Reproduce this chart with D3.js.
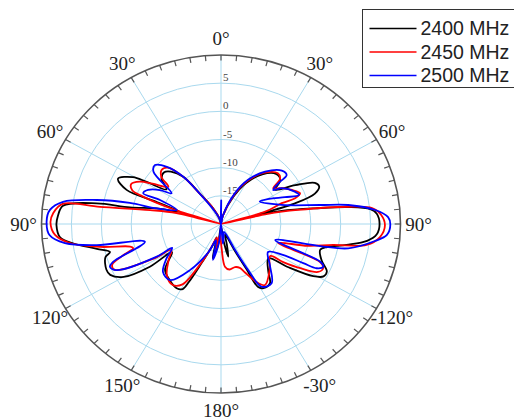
<!DOCTYPE html>
<html>
<head>
<meta charset="utf-8">
<script src="https://cdn.jsdelivr.net/npm/d3@7"></script>
<style>
  body { margin: 0; background: #fff; }
</style>
</head>
<body>
<div id="chart"></div>
<script>
// radiation pattern, dB vs angle (deg, clockwise from top), traced in path order
const seriesNames = ['2400 MHz', '2450 MHz', '2500 MHz'];
const seriesColors = ['#000000', '#ff0000', '#0000ff'];

const rTicks = [-15, -10, -5, 0, 5];
const rTickLabels = ['-15', '-10', '-5', '0', '5'];
const angleTicks = [0, 30, 60, 90, 120, 150, 180, 210, 240, 270, 300, 330];
const angleLabels = ['0°', '30°', '60°', '90°', '-120°', '-30°', '180°', '150°', '120°', '90°', '60°', '30°'];

const gain2400 = [
  [0, -20], [12, -18.5], [23, -14.8], [30, -11.6], [38, -8.8], [46, -7.2], [52, -7.4], [56, -9.1],
  [61, -5.8], [65, -2.7], [68, -2.3], [71, -3.4], [73.5, -7.1], [74.5, -12.3], [75, -13.8],
  [77, -9.6], [80, -4.0], [82, 1.5], [84, 5.1], [86, 6.1], [90, 6.5], [94, 6.1], [97, 4.6],
  [100, 1.3], [103, -1.8], [105.5, -2.8], [111, -2.0], [115.5, -0.4], [118.5, -0.5], [121, -2.0],
  [124.5, -6.6], [127.5, -10.0], [137, -8.4], [142, -6.7], [148, -6.6], [151, -7.2], [152, -11],
  [154, -14.5], [160, -18], [165, -16.2], [168, -14.1], [172, -17], [180, -19.5], [188, -16],
  [193, -13.8], [197, -17.5], [200, -16], [205, -12.5], [207.5, -8.5], [209, -6.8], [213, -6.4],
  [220, -6.8], [229, -7.6], [238.5, -10.4], [237.5, -5.9], [240, -1.2], [244, 0.6], [247, 0.8],
  [253, 0.2], [255, -0.8], [258, 1.2], [262, 4.9], [265, 7.0], [269.6, 7.5], [273, 7.3],
  [277, 6.6], [280, 1.1], [281, -4.5], [284.5, -8.9], [287.5, -12.8], [290, -8.4], [291, -3.1],
  [295, -1.0], [299.5, -3.1], [301, -5.5], [304, -9.0], [309, -7.2], [314, -6.8], [318, -7.5],
  [323, -9.5], [327, -13.6], [335, -17], [345, -19], [360, -20],
];

const gain2450 = [
  [0, -20], [12, -18.5], [23, -14.3], [30, -11.2], [38, -8.5], [46.5, -6.9], [51, -7.3], [54, -9.2],
  [58, -8], [63, -6.7], [67.5, -5.7], [69.8, -6.8], [70, -9.2], [73.5, -12.3], [75, -20],
  [77, -12], [79, -6.9], [81.8, 1.5], [83.6, 5.4], [86.5, 6.8], [90.5, 7.4], [94.9, 6.7],
  [98.7, 4.6], [101.2, -0.9], [105, -5], [109.5, -9.9], [112.2, -2.1], [114.6, -1.2],
  [117.7, -1.7], [120.6, -4.6], [123, -7.6], [124.7, -10], [135, -8.5], [145.8, -6.9],
  [149.4, -7.8], [155, -10.5], [158, -11.6], [163, -12], [170, -11.8], [175, -12.4], [179, -16],
  [185, -18], [191, -15.5], [196, -17.5], [202, -15], [207, -11], [211, -7.5], [217, -6.5],
  [225, -7.2], [234, -9.2], [241, -10.5], [241.3, -7.4], [245.3, -0.5], [248.2, -0.4], [251, -2.5],
  [253.6, -4.7], [255.2, -4.3], [258.6, 0.6], [262.4, 5.5], [266, 7.8], [270.5, 8.5], [274, 8.1],
  [277.7, 6.7], [278.5, 0.45], [281.8, -7.9], [284.7, -12.3], [285.5, -20], [288, -12],
  [290.5, -6], [292, -4], [295.3, -3.4], [299, -4.5], [302, -6.5], [306.9, -9.0], [310, -7],
  [314, -6.2], [318.3, -6.6], [323.1, -9.6], [326.6, -13.6], [335, -17], [345, -19], [360, -20],
];

const gain2500 = [
  [0, -20], [0.5, -15.8], [2.5, -20], [12, -18.5], [23, -14.1], [30, -10.95], [38.4, -8.15],
  [47, -6.1], [51.6, -6.0], [53, -8.0], [55.4, -9.4], [58, -8.0], [65, -6.4], [68.5, -6.0],
  [66, -8.3], [61, -10.8], [58.3, -12.4], [71.6, -9.3], [78.5, -3.1], [81, 1.55], [84.5, 5.9],
  [87.5, 7.95], [90.2, 8.3], [94, 7.8], [96.7, 5.9], [101.5, 1.7], [103.3, -3.0], [107.5, -10.5],
  [112, -2.1], [113.9, -1.3], [116.2, -2.2], [116.8, -4.6], [118, -8.3], [122.3, -10.7],
  [132, -9], [141.2, -6.5], [148.6, -6.95], [151, -10.7], [153, -14.8], [160, -18.5],
  [170, -17.5], [175, -16.5], [180, -20], [186, -16.5], [192, -13.5], [196, -17], [203, -14.5],
  [212.4, -10.3], [220.6, -6.9], [228.7, -7.1], [236, -9], [242.5, -10.8], [241.6, -7.8],
  [244.9, -0.7], [247.8, 0.05], [249.6, -0.8], [256.1, -6.9], [259.8, 1.1], [262.6, 6.3],
  [266, 8.7], [270.8, 9.15], [275, 8.7], [278.5, 6.7], [281.6, 1.2], [283.8, -4.3], [284.5, -8.9],
  [288.6, -12.2], [292.7, -8.95], [292.8, -5.9], [296.4, -6.4], [300.6, -8.15], [303.5, -10.1],
  [309.4, -5.4], [313.5, -4.8], [318.3, -6.4], [323.1, -9.5], [326.6, -13.6], [335, -17.5],
  [345, -19], [360, -20],
];

const seriesData = [gain2400, gain2450, gain2500];

const width = 514;
const height = 420;
const cx = 221;
const cy = 224;
const rx = 179.5;
const ry = 169;

const svg = d3.select('#chart').append('svg')
  .attr('width', width)
  .attr('height', height);

const r = d3.scaleLinear().domain([-20, 10]).range([0, 1]).clamp(true);

// k is a fraction of the outer ring
const toXY = (deg, k) => {
  const a = deg * Math.PI / 180;
  return [cx + k * rx * Math.sin(a), cy - k * ry * Math.cos(a)];
};

// grid rings
svg.selectAll('.ring')
  .data(rTicks)
  .enter().append('ellipse')
  .attr('class', 'ring')
  .attr('cx', cx)
  .attr('cy', cy)
  .attr('rx', d => r(d) * rx)
  .attr('ry', d => r(d) * ry)
  .style('fill', 'none')
  .style('stroke', '#a9d9ee')
  .style('stroke-width', 1);

// spokes
svg.selectAll('.spoke')
  .data(angleTicks)
  .enter().append('line')
  .attr('class', 'spoke')
  .attr('x1', cx)
  .attr('y1', cy)
  .attr('x2', d => toXY(d, 1)[0])
  .attr('y2', d => toXY(d, 1)[1])
  .style('stroke', '#a9d9ee')
  .style('stroke-width', 1);

// outer ring + ticks every 5 deg
svg.append('ellipse')
  .attr('cx', cx)
  .attr('cy', cy)
  .attr('rx', rx)
  .attr('ry', ry)
  .style('fill', 'none')
  .style('stroke', '#555')
  .style('stroke-width', 1.6);

svg.selectAll('.tick')
  .data(d3.range(0, 360, 5))
  .enter().append('line')
  .attr('class', 'tick')
  .attr('x1', d => toXY(d, 1)[0])
  .attr('y1', d => toXY(d, 1)[1])
  .attr('x2', d => toXY(d, 1 - 5.5 / ry)[0])
  .attr('y2', d => toXY(d, 1 - 5.5 / ry)[1])
  .style('stroke', '#555')
  .style('stroke-width', 1.2);

// radial labels along the 0 deg axis
svg.selectAll('.rlabel')
  .data(rTicks)
  .enter().append('text')
  .attr('class', 'rlabel')
  .attr('x', cx + 2)
  .attr('y', d => cy - r(d) * ry - 2)
  .style('font-family', '"Liberation Serif", "Times New Roman", serif')
  .style('font-size', '11px')
  .style('fill', '#444')
  .text((d, i) => rTickLabels[i]);

// pattern curves
const line = d3.line()
  .x(d => toXY(d[0], r(d[1]))[0])
  .y(d => toXY(d[0], r(d[1]))[1])
  .curve(d3.curveCatmullRom.alpha(0.5));

svg.selectAll('.curve')
  .data(seriesData)
  .enter().append('path')
  .attr('class', 'curve')
  .attr('d', line)
  .style('fill', 'none')
  .style('stroke', (d, i) => seriesColors[i])
  .style('stroke-width', 1.8)
  .style('stroke-linejoin', 'round');

// angle labels
svg.selectAll('.alabel')
  .data(angleTicks)
  .enter().append('text')
  .attr('class', 'alabel')
  .attr('x', d => toXY(d, 1.1)[0])
  .attr('y', d => toXY(d, 1.1)[1])
  .attr('dy', '0.35em')
  .style('font-family', '"Liberation Serif", "Times New Roman", serif')
  .style('font-size', '19px')
  .style('text-anchor', 'middle')
  .style('fill', '#222')
  .text((d, i) => angleLabels[i]);

// legend
const legend = svg.append('g').attr('transform', 'translate(362.5,9.5)');

legend.append('rect')
  .attr('width', 170)
  .attr('height', 78)
  .style('fill', '#fff')
  .style('stroke', '#333')
  .style('stroke-width', 1);

const items = legend.selectAll('.item')
  .data(seriesNames)
  .enter().append('g')
  .attr('class', 'item')
  .attr('transform', (d, i) => `translate(0,${19 + i * 23.5})`);

items.append('line')
  .attr('x1', 7)
  .attr('x2', 54)
  .style('stroke', (d, i) => seriesColors[i])
  .style('stroke-width', 1.6);

items.append('text')
  .attr('x', 58)
  .attr('dy', '0.35em')
  .style('font-family', '"Liberation Sans", Arial, sans-serif')
  .style('font-size', '19.5px')
  .style('fill', '#222')
  .text(d => d);
</script>
</body>
</html>
